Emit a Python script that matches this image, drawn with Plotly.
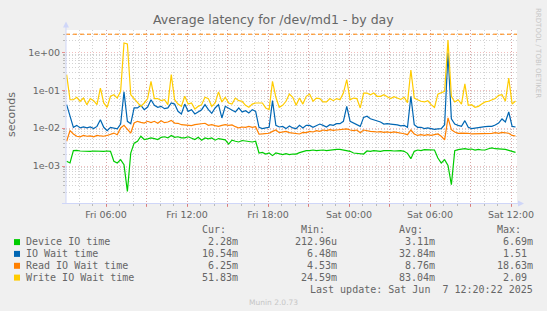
import plotly.graph_objects as go
import pandas as pd

# ---------------- data ----------------
start_time = "2025-06-06 03:05"
step = "15min"

device_io_time = [
    0.00133, 0.0012, 0.00254, 0.00259, 0.00249, 0.00244, 0.00249, 0.00244, 0.00249, 0.00244,
    0.00249, 0.00244, 0.00249, 0.00244, 0.00133, 0.0012, 0.00147, 0.00108, 0.000213, 0.0022,
    0.0040, 0.0045, 0.0061, 0.0050, 0.0052, 0.0055, 0.0053, 0.0050, 0.0057, 0.0059,
    0.0055, 0.0064, 0.0057, 0.0059, 0.0055, 0.0055, 0.0059, 0.0053, 0.0050, 0.0057,
    0.0048, 0.0055, 0.0052, 0.0055, 0.0048, 0.0053, 0.0050, 0.0049, 0.0038, 0.0048,
    0.0045, 0.0043, 0.0047, 0.0045, 0.0045, 0.0043, 0.0045, 0.0022, 0.00229, 0.00207,
    0.0022, 0.00188, 0.0022, 0.00207, 0.0020, 0.00211, 0.0020, 0.00207, 0.00207, 0.00225,
    0.00244, 0.00254, 0.00254, 0.00264, 0.00254, 0.00259, 0.00264, 0.00254, 0.00264, 0.0027,
    0.00275, 0.00275, 0.00264, 0.00264, 0.00244, 0.0022, 0.00216, 0.00216, 0.00207, 0.00249,
    0.00244, 0.00254, 0.00244, 0.00244, 0.00254, 0.00259, 0.00254, 0.00249, 0.00254, 0.00254,
    0.00244, 0.00216, 0.00156, 0.00244, 0.00264, 0.00254, 0.0027, 0.00264, 0.00259, 0.00264,
    0.00163, 0.0012, 0.00147, 0.00104, 0.00032, 0.00254, 0.0027, 0.00281, 0.00286, 0.00275,
    0.00281, 0.00264, 0.00275, 0.00264, 0.00264, 0.00286, 0.0030, 0.00286, 0.00281, 0.00286,
    0.00275, 0.00259, 0.00244, 0.00229,
]

io_wait_time = [
    0.0415, 0.0205, 0.0105, 0.0118, 0.0101, 0.0107, 0.0101, 0.0107, 0.0097, 0.0111,
    0.0167, 0.0105, 0.0086, 0.0105, 0.0101, 0.0095, 0.0128, 0.090, 0.0151, 0.0131,
    0.034, 0.034, 0.040, 0.0306, 0.036, 0.056, 0.040, 0.0353, 0.0375, 0.0326,
    0.034, 0.046, 0.043, 0.0277, 0.0236, 0.043, 0.0277, 0.0306, 0.0236, 0.0266,
    0.0306, 0.0415, 0.0306, 0.0245, 0.034, 0.0415, 0.0185, 0.0375, 0.034, 0.0294,
    0.0266, 0.034, 0.0266, 0.0288, 0.025, 0.0306, 0.0277, 0.0105, 0.0097, 0.0101,
    0.0105, 0.053, 0.0118, 0.0107, 0.0111, 0.0097, 0.0114, 0.0101, 0.0097, 0.0118,
    0.0101, 0.0118, 0.0118, 0.0105, 0.0114, 0.0128, 0.0118, 0.0107, 0.0123, 0.0118,
    0.0131, 0.0131, 0.0151, 0.0375, 0.0151, 0.0136, 0.0123, 0.0111, 0.0192, 0.0205,
    0.0177, 0.0164, 0.0157, 0.0145, 0.0128, 0.0131, 0.0128, 0.0126, 0.0121, 0.0114,
    0.0118, 0.0105, 0.069, 0.0123, 0.0105, 0.0105, 0.0097, 0.0101, 0.0097, 0.0093,
    0.0095, 0.0097, 0.0123, 0.96, 0.0177, 0.0128, 0.0118, 0.0111, 0.0157, 0.0105,
    0.0097, 0.0101, 0.0101, 0.0107, 0.0109, 0.0111, 0.0111, 0.0121, 0.0136, 0.0174,
    0.0145, 0.0266, 0.0111, 0.0107,
]

read_io_wait_time = [
    0.0045, 0.0086, 0.0070, 0.0061, 0.0059, 0.0064, 0.0061, 0.0062, 0.0059, 0.0064,
    0.0062, 0.0061, 0.0064, 0.0070, 0.0074, 0.0067, 0.0101, 0.0118, 0.0091, 0.0074,
    0.0136, 0.0151, 0.0142, 0.0136, 0.0151, 0.0139, 0.0151, 0.0134, 0.0157, 0.0139,
    0.0145, 0.0160, 0.0136, 0.0134, 0.0123, 0.0121, 0.0118, 0.0116, 0.0123, 0.0126,
    0.0128, 0.0134, 0.0118, 0.0123, 0.0116, 0.0111, 0.0118, 0.0123, 0.0118, 0.0121,
    0.0109, 0.0101, 0.0107, 0.0105, 0.0111, 0.0105, 0.0109, 0.0069, 0.0070, 0.0070,
    0.0073, 0.0082, 0.0089, 0.0076, 0.0079, 0.0082, 0.0076, 0.0074, 0.0070, 0.0070,
    0.0077, 0.0076, 0.0082, 0.0079, 0.0086, 0.0082, 0.0089, 0.0086, 0.0091, 0.0087,
    0.0089, 0.0091, 0.0089, 0.0095, 0.0089, 0.0086, 0.0089, 0.0076, 0.0089, 0.0084,
    0.0082, 0.0081, 0.0079, 0.0081, 0.0077, 0.0079, 0.0076, 0.0079, 0.0077, 0.0074,
    0.0071, 0.0067, 0.0089, 0.0070, 0.0064, 0.0067, 0.0064, 0.0067, 0.0064, 0.0067,
    0.0070, 0.0061, 0.0049, 0.0186, 0.0091, 0.0079, 0.0073, 0.0074, 0.0074, 0.0073,
    0.0070, 0.0070, 0.0073, 0.0070, 0.0073, 0.0070, 0.0073, 0.0076, 0.0073, 0.0077,
    0.0074, 0.0073, 0.0064, 0.0062,
]

write_io_wait_time = [
    0.257, 0.056, 0.056, 0.065, 0.051, 0.062, 0.0415, 0.060, 0.053, 0.0415,
    0.114, 0.046, 0.0353, 0.069, 0.076, 0.062, 0.093, 1.76, 1.66, 0.076,
    0.060, 0.049, 0.0375, 0.046, 0.060, 0.171, 0.060, 0.060, 0.053, 0.056,
    0.0415, 0.257, 0.056, 0.043, 0.0375, 0.069, 0.043, 0.046, 0.0319, 0.0375,
    0.0415, 0.065, 0.060, 0.0375, 0.046, 0.090, 0.049, 0.065, 0.046, 0.043,
    0.062, 0.053, 0.051, 0.040, 0.0353, 0.043, 0.046, 0.046, 0.046, 0.034,
    0.0306, 0.171, 0.065, 0.0353, 0.040, 0.051, 0.079, 0.065, 0.040, 0.062,
    0.043, 0.069, 0.079, 0.051, 0.062, 0.060, 0.049, 0.049, 0.060, 0.053,
    0.060, 0.056, 0.084, 0.190, 0.056, 0.062, 0.060, 0.034, 0.084, 0.084,
    0.076, 0.084, 0.069, 0.069, 0.076, 0.0675, 0.060, 0.0675, 0.062, 0.057,
    0.065, 0.047, 0.34, 0.062, 0.056, 0.051, 0.049, 0.053, 0.0415, 0.0353,
    0.079, 0.084, 0.093, 2.09, 0.069, 0.049, 0.056, 0.043, 0.146, 0.040,
    0.0415, 0.0353, 0.0375, 0.043, 0.049, 0.051, 0.056, 0.060, 0.073, 0.076,
    0.051, 0.210, 0.043, 0.052,
]

series_names = ["Device IO time", "IO Wait time", "Read IO Wait time", "Write IO Wait time"]
series_colors = ["#00CC00", "#0066B3", "#FF8000", "#FFCC00"]
cur_vals = ["2.28m", "10.54m", "6.25m", "51.83m"]
min_vals = ["212.96u", "6.48m", "4.53m", "24.59m"]
avg_vals = ["3.11m", "32.84m", "8.76m", "83.04m"]
max_vals = ["6.69m", "1.51", "18.63m", "2.09"]
col_headers = ["Cur:", "Min:", "Avg:", "Max:"]

x_tick_vals = ["2025-06-06 06:00", "2025-06-06 09:00", "2025-06-06 12:00", "2025-06-06 15:00",
               "2025-06-06 18:00", "2025-06-06 21:00", "2025-06-07 00:00", "2025-06-07 03:00",
               "2025-06-07 06:00", "2025-06-07 09:00", "2025-06-07 12:00"]
x_tick_text = ["Fri 06:00", "", "Fri 12:00", "", "Fri 18:00", "", "Sat 00:00", "",
               "Sat 06:00", "", "Sat 12:00"]
y_tick_vals = [1e-3, 1e-2, 1e-1, 1.0]
y_tick_text = ["1e-03", "1e-02", "1e-01", "1e+00"]
warning_level = 3.0

title_text = "Average latency for /dev/md1 - by day"
y_title = "seconds"
last_update = "Last update: Sat Jun\u00a0\u00a07 12:20:22 2025"
watermark = "Munin 2.0.73"
side_mark = "RRDTOOL / TOBI OETIKER"

# ---------------- layout geometry (pixels) ----------------
WIDTH, HEIGHT = 547, 311
L, R, T, B = 66, 517, 30, 203
PW, PH = R - L, B - T


def px(x):
    return (x - L) / PW


def py(y):
    return (B - y) / PH


FONT = "DejaVu Sans"
MONO = "DejaVu Sans Mono"
FONT_COLOR = "#666666"
AXIS_COLOR = "#CFD6F8"
MINOR_GRID = "rgba(150,150,150,0.42)"
MAJOR_GRID = "rgba(225,100,100,0.42)"

times = pd.date_range(start_time, periods=len(device_io_time), freq=step)

fig = go.Figure()
for name, vals, col in zip(series_names,
                           [device_io_time, io_wait_time, read_io_wait_time, write_io_wait_time],
                           series_colors):
    fig.add_trace(go.Scatter(x=times, y=vals, mode="lines", name=name,
                             line=dict(color=col, width=1.2), hoverinfo="skip",
                             showlegend=False))

minor_y = [k * 10.0 ** d for d in range(-4, 1) for k in range(2, 10)]

fig.update_layout(
    width=WIDTH, height=HEIGHT,
    margin=dict(l=L, r=WIDTH - R, t=T, b=HEIGHT - B, pad=0),
    paper_bgcolor="#F0F0F0", plot_bgcolor="#FFFFFF",
    font=dict(family=FONT, color=FONT_COLOR, size=9.5),
    xaxis=dict(
        type="date",
        range=["2025-06-06 03:02:13", "2025-06-07 12:26:40"],
        tickmode="array", tickvals=x_tick_vals, ticktext=x_tick_text,
        showgrid=True, gridcolor=MAJOR_GRID, griddash="1px,2px", gridwidth=1,
        ticks="outside", ticklen=3, tickcolor="rgba(225,100,100,0.7)", tickwidth=1,
        tickfont=dict(family=FONT, size=9.5, color=FONT_COLOR),
        minor=dict(dtick=3600000, tick0="2025-06-06 00:00", showgrid=True,
                   gridcolor=MINOR_GRID, griddash="1px,2px", gridwidth=1,
                   ticks="outside", ticklen=2, tickcolor="rgba(150,150,150,0.6)"),
        showline=False, zeroline=False, fixedrange=True,
    ),
    yaxis=dict(
        type="log",
        range=[-3.976, 0.588],
        tickmode="array", tickvals=y_tick_vals, ticktext=y_tick_text,
        showgrid=True, gridcolor=MAJOR_GRID, griddash="1px,2px", gridwidth=1,
        ticks="outside", ticklen=3, tickcolor="rgba(225,100,100,0.7)",
        tickfont=dict(family=FONT, size=9.5, color=FONT_COLOR),
        minor=dict(tickmode="array", tickvals=minor_y, showgrid=True,
                   gridcolor=MINOR_GRID, griddash="1px,2px", gridwidth=1,
                   ticks="outside", ticklen=2, tickcolor="rgba(150,150,150,0.6)"),
        showline=False, zeroline=False, fixedrange=True,
    ),
)

shapes = []
# warning rule
shapes.append(dict(type="line", xref="paper", yref="y", x0=0, x1=1,
                   y0=warning_level, y1=warning_level,
                   line=dict(color="#FF8000", width=1, dash="4px,3px"), layer="above"))
# axes lines + arrows
shapes.append(dict(type="line", xref="paper", yref="paper", x0=px(66), x1=px(66),
                   y0=py(203.5), y1=py(26), line=dict(color=AXIS_COLOR, width=1), layer="above"))
shapes.append(dict(type="line", xref="paper", yref="paper", x0=px(62), x1=px(519),
                   y0=py(203.5), y1=py(203.5), line=dict(color=AXIS_COLOR, width=1), layer="above"))
shapes.append(dict(type="path", xref="paper", yref="paper",
                   path=f"M {px(63)},{py(27.5)} L {px(69)},{py(27.5)} L {px(66)},{py(21.5)} Z",
                   fillcolor=AXIS_COLOR, line=dict(width=0), layer="above"))
shapes.append(dict(type="path", xref="paper", yref="paper",
                   path=f"M {px(518)},{py(200.5)} L {px(518)},{py(206.5)} L {px(524)},{py(203.5)} Z",
                   fillcolor=AXIS_COLOR, line=dict(width=0), layer="above"))

row_y = [241.6, 253.4, 265.3, 277.1]
for ry, col in zip(row_y, series_colors):
    shapes.append(dict(type="rect", xref="paper", yref="paper",
                       x0=px(14), x1=px(20), y0=py(ry + 3.5), y1=py(ry - 2.5),
                       fillcolor=col, line=dict(width=0)))

annotations = []


def ann(x, y, text, size, family=FONT, color=FONT_COLOR, xanchor="center", angle=0):
    annotations.append(dict(x=px(x), y=py(y), xref="paper", yref="paper", text=text,
                            showarrow=False, xanchor=xanchor, yanchor="middle",
                            textangle=angle, borderpad=0, borderwidth=0,
                            font=dict(family=family, size=size, color=color)))


ann(273.5, 20, title_text, 12.5)
ann(11, 115, y_title, 11, angle=-90)
ann(538, 53, side_mark, 7, color="#C6C6C6", angle=90)

CW = 6.02
col_right = [238.4, 336.8, 435.1, 533.3]
for hdr, cr in zip(col_headers, col_right):
    ann(cr - 2 * CW, 229.5, hdr, 10, family=MONO, xanchor="right")
for ry, name, c, mn, av, mx in zip(row_y, series_names, cur_vals, min_vals, avg_vals, max_vals):
    ann(26, ry, name, 10, family=MONO, xanchor="left")
    for v, cr in zip([c, mn, av, mx], col_right):
        xr = cr if v[-1].isalpha() else cr - CW
        ann(xr, ry, v, 10, family=MONO, xanchor="right")
ann(533.3, 289.7, last_update, 10, family=MONO, xanchor="right")
ann(273, 302.7, watermark, 7.5, color="#C6C6C6")

fig.update_layout(shapes=shapes, annotations=annotations)
fig.write_html("out.html")
